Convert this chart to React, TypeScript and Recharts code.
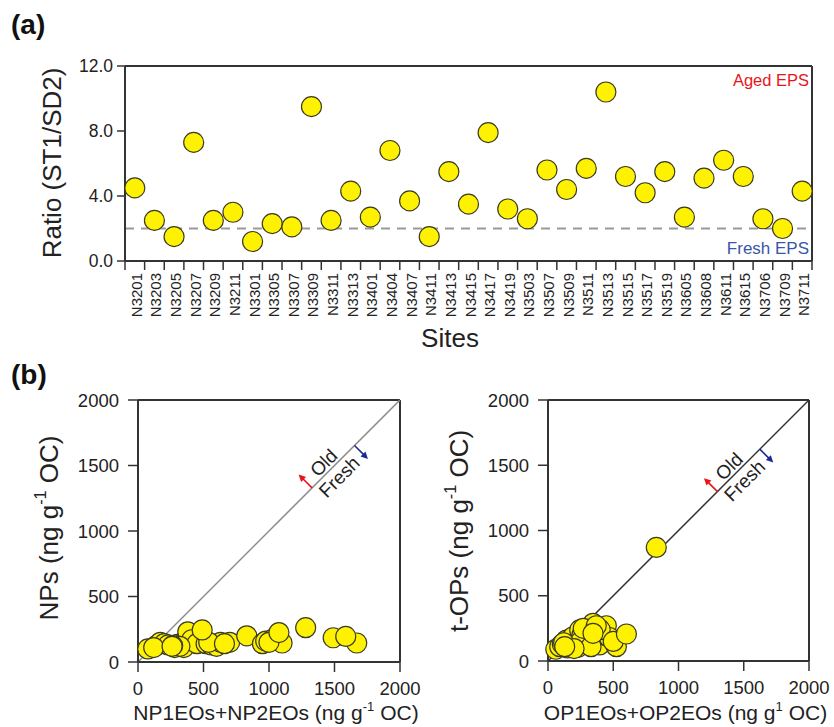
import React from 'react'
import { ScatterChart, Scatter, XAxis, YAxis, ReferenceLine, ReferenceDot } from 'recharts'

// (a) ratio per site
const SITES = [
  'N3201', 'N3203', 'N3205', 'N3207', 'N3209', 'N3211', 'N3301', 'N3305', 'N3307', 'N3309',
  'N3311', 'N3313', 'N3401', 'N3404', 'N3407', 'N3411', 'N3413', 'N3415', 'N3417', 'N3419',
  'N3503', 'N3507', 'N3509', 'N3511', 'N3513', 'N3515', 'N3517', 'N3519', 'N3605', 'N3608',
  'N3611', 'N3615', 'N3706', 'N3709', 'N3711',
]
const RATIO = [
  4.5, 2.5, 1.5, 7.3, 2.5, 3.0, 1.2, 2.3, 2.1, 9.5,
  2.5, 4.3, 2.7, 6.8, 3.7, 1.5, 5.5, 3.5, 7.9, 3.2,
  2.6, 5.6, 4.4, 5.7, 10.4, 5.2, 4.2, 5.5, 2.7, 5.1,
  6.2, 5.2, 2.6, 2.0, 4.3,
]
const RATIO_TICKS = [0, 4, 8, 12]
const FRESH_LIMIT = 2

// (b) left: NP1EOs+NP2EOs vs NPs
const NP_EO = [75, 140, 170, 200, 230, 280, 300, 350, 360, 380, 410, 450, 520, 560, 600, 630, 700, 830,
  950, 975, 1030, 1100, 1280, 1490, 1670, 120, 320, 540, 660, 1000, 265, 490, 1076, 1586, 260]
const NP_NP = [100, 125, 150, 140, 130, 110, 135, 110, 160, 230, 170, 140, 140, 130, 120, 150, 150, 200,
  140, 160, 175, 145, 262, 185, 145, 110, 120, 150, 140, 150, 125, 245, 225, 195, 120]

// (b) right: OP1EOs+OP2EOs vs t-OPs
const OP_EO = [60, 90, 110, 141, 160, 180, 192, 210, 230, 243, 260, 280, 300, 320, 345, 360, 380, 396,
  420, 447, 470, 524, 830, 150, 250, 330, 400, 120, 200, 270, 500, 370, 601, 128, 345]
const OP_OP = [90, 110, 130, 160, 140, 175, 186, 130, 105, 238, 200, 150, 130, 160, 289, 180, 150, 123,
  200, 270, 180, 110, 870, 100, 150, 110, 240, 140, 95, 250, 150, 270, 207, 110, 212]

const CONC_TICKS = [0, 500, 1000, 1500, 2000]

const FONT = '"Liberation Sans", Arial, Helvetica, sans-serif'
const AXIS = '#333'
const TXT = '#222'
const YELLOW = '#fff200'
const RED = '#e8141c'
const BLUE = '#1c2a96'

const TOP_W = 834
const TOP_M = { top: 66, right: 22, bottom: 0, left: 0 }
const TOP_YW = 125
const HALF_BAND = (TOP_W - TOP_M.right - TOP_YW) / SITES.length / 2

const ratioData = SITES.map((site, i) => ({ i, site, ratio: RATIO[i] }))
const npData = NP_EO.map((x, i) => ({ x, y: NP_NP[i] }))
const opData = OP_EO.map((x, i) => ({ x, y: OP_OP[i] }))

const Dot = (p: any) => (
  <circle cx={p.cx} cy={p.cy} r={10} fill={YELLOW} stroke="#3b3b22" strokeWidth={1.2} />
)

function SiteTick({ x, y, payload }: any) {
  const tx = x + 7
  const ty = y + 12
  return (
    <g>
      {payload.value === 0 && (
        <line x1={x - HALF_BAND} y1={y} x2={x - HALF_BAND} y2={y + 9} stroke={AXIS} strokeWidth={1.5} />
      )}
      <line x1={x + HALF_BAND} y1={y} x2={x + HALF_BAND} y2={y + 9} stroke={AXIS} strokeWidth={1.5} />
      <text x={tx} y={ty} transform={`rotate(-90 ${tx} ${ty})`} textAnchor="end"
        fontSize={15} fontFamily={FONT} fill={TXT}>
        {SITES[payload.value]}
      </text>
    </g>
  )
}

function VTitle({ x, y, size, children }: any) {
  return (
    <text x={x} y={y} transform={`rotate(-90 ${x} ${y})`} textAnchor="middle" dominantBaseline="central"
      fontSize={size} fontFamily={FONT} fill={TXT}>
      {children}
    </text>
  )
}

function OldFresh({ cx, cy }: any) {
  return (
    <g transform={`translate(${cx},${cy}) rotate(-45)`} fontFamily={FONT} fontSize={19} fill={TXT}>
      <text x={-2} y={-3} textAnchor="middle">Old</text>
      <text x={-1} y={18} textAnchor="middle">Fresh</text>
      <line x1={-28} y1={0} x2={-28} y2={-13} stroke={RED} strokeWidth={1.6} />
      <path d="M-31.5,-12 L-28,-19 L-24.5,-12 Z" fill={RED} />
      <line x1={32} y1={0} x2={32} y2={13} stroke={BLUE} strokeWidth={1.6} />
      <path d="M28.5,12 L32,19 L35.5,12 Z" fill={BLUE} />
    </g>
  )
}

function ConcChart({ data, left, rightMargin, xHeight, lineColor, anchor, yTitle, xTitle, xTitleX, yTitleY }: any) {
  return (
    <div style={{ position: 'absolute', left, top: 360 }}>
      <ScatterChart width={left === 0 ? 440 : 424} height={367}
        margin={{ top: 40, right: rightMargin, bottom: 0, left: 0 }}>
        <XAxis type="number" dataKey="x" domain={[0, 2000]} ticks={CONC_TICKS} interval={0}
          height={xHeight} tickSize={10} tickMargin={10}
          axisLine={{ stroke: AXIS, strokeWidth: 2 }} tickLine={{ stroke: AXIS, strokeWidth: 1.5 }}
          tick={{ fontSize: 18.5, fill: TXT, fontFamily: FONT }}
          label={() => (
            <text x={xTitleX} y={360} textAnchor="middle" fontSize={21} fontFamily={FONT} fill={TXT}>
              {xTitle}
            </text>
          )} />
        <YAxis type="number" dataKey="y" domain={[0, 2000]} ticks={CONC_TICKS} interval={0}
          width={138} tickSize={10} tickMargin={9}
          axisLine={{ stroke: AXIS, strokeWidth: 2 }} tickLine={{ stroke: AXIS, strokeWidth: 1.5 }}
          tick={{ fontSize: 18.5, fill: TXT, fontFamily: FONT }}
          label={() => <VTitle x={49} y={yTitleY} size={26}>{yTitle}</VTitle>} />
        <ReferenceLine y={2000} stroke={AXIS} strokeWidth={2} ifOverflow="visible" />
        <ReferenceLine x={2000} stroke={AXIS} strokeWidth={2} ifOverflow="visible" />
        <ReferenceLine segment={[{ x: 0, y: 0 }, { x: 2000, y: 2000 }]} stroke={lineColor} strokeWidth={1.5} />
        <ReferenceDot x={anchor} y={anchor} r={0} ifOverflow="visible"
          shape={(p: any) => <OldFresh cx={p.cx} cy={p.cy} />} />
        <Scatter data={data} shape={Dot} isAnimationActive={false} />
      </ScatterChart>
    </div>
  )
}

const gUnit = (label: string, sup: string, rest: string) => (
  <>
    {label}
    <tspan dy={-9} fontSize="62%">{sup}</tspan>
    <tspan dy={9}>{rest}</tspan>
  </>
)

export default function App() {
  return (
    <div style={{ position: 'absolute', left: 0, top: 0, width: 834, height: 727, background: '#fff', fontFamily: FONT }}>
      <svg width={70} height={400} style={{ position: 'absolute', left: 0, top: 0 }}>
        <text x={11} y={34} fontSize={28} fontWeight="bold" fontFamily={FONT} fill="#111">(a)</text>
        <text x={11} y={384} fontSize={28} fontWeight="bold" fontFamily={FONT} fill="#111">(b)</text>
      </svg>

      <div style={{ position: 'absolute', left: 0, top: 0 }}>
        <ScatterChart width={TOP_W} height={360} margin={TOP_M}>
          <XAxis type="number" dataKey="i" domain={[-0.5, SITES.length - 0.5]}
            ticks={SITES.map((_, i) => i)} interval={0} height={99}
            tickSize={0} tickMargin={0} tickLine={false}
            axisLine={{ stroke: AXIS, strokeWidth: 2 }} tick={<SiteTick />}
            label={() => (
              <text x={450} y={347} textAnchor="middle" fontSize={26} fontFamily={FONT} fill={TXT}>Sites</text>
            )} />
          <YAxis type="number" dataKey="ratio" domain={[0, 12]} ticks={RATIO_TICKS} interval={0}
            width={TOP_YW} tickSize={8} tickMargin={4} tickFormatter={(v: number) => v.toFixed(1)}
            axisLine={{ stroke: AXIS, strokeWidth: 2 }} tickLine={{ stroke: AXIS, strokeWidth: 1.5 }}
            tick={{ fontSize: 17.5, fill: TXT, fontFamily: FONT }}
            label={() => <VTitle x={52} y={163} size={26}>Ratio (ST1/SD2)</VTitle>} />
          <ReferenceLine y={12} stroke={AXIS} strokeWidth={2} ifOverflow="visible" />
          <ReferenceLine x={SITES.length - 0.5} stroke={AXIS} strokeWidth={2} ifOverflow="visible" />
          <ReferenceLine y={FRESH_LIMIT} stroke="#999" strokeWidth={2} strokeDasharray="9 7" />
          <ReferenceDot x={SITES.length - 0.65} y={11.15} r={0} ifOverflow="visible"
            shape={(p: any) => (
              <text x={p.cx} y={p.cy} textAnchor="end" dominantBaseline="central" fontSize={16.5}
                fontFamily={FONT} fill={RED}>Aged EPS</text>
            )} />
          <ReferenceDot x={SITES.length - 0.65} y={0.8} r={0} ifOverflow="visible"
            shape={(p: any) => (
              <text x={p.cx} y={p.cy} textAnchor="end" dominantBaseline="central" fontSize={17}
                fontFamily={FONT} fill="#3a55a8">Fresh EPS</text>
            )} />
          <Scatter data={ratioData} dataKey="ratio" shape={Dot} isAnimationActive={false} />
        </ScatterChart>
      </div>

      <ConcChart data={npData} left={0} rightMargin={40} xHeight={65} lineColor="#8a8a8a" anchor={1480}
        yTitle={gUnit('NPs (ng g', '-1', ' OC)')} yTitleY={168}
        xTitle={gUnit('NP1EOs+NP2EOs (ng g', '-1', ' OC)')} xTitleX={276} />
      <ConcChart data={opData} left={410} rightMargin={25} xHeight={66} lineColor="#333" anchor={1450}
        yTitle={gUnit('t-OPs (ng g', '-1', ' OC)')} yTitleY={171}
        xTitle={gUnit('OP1EOs+OP2EOs (ng g', '1', ' OC)')} xTitleX={275.5} />
    </div>
  )
}
